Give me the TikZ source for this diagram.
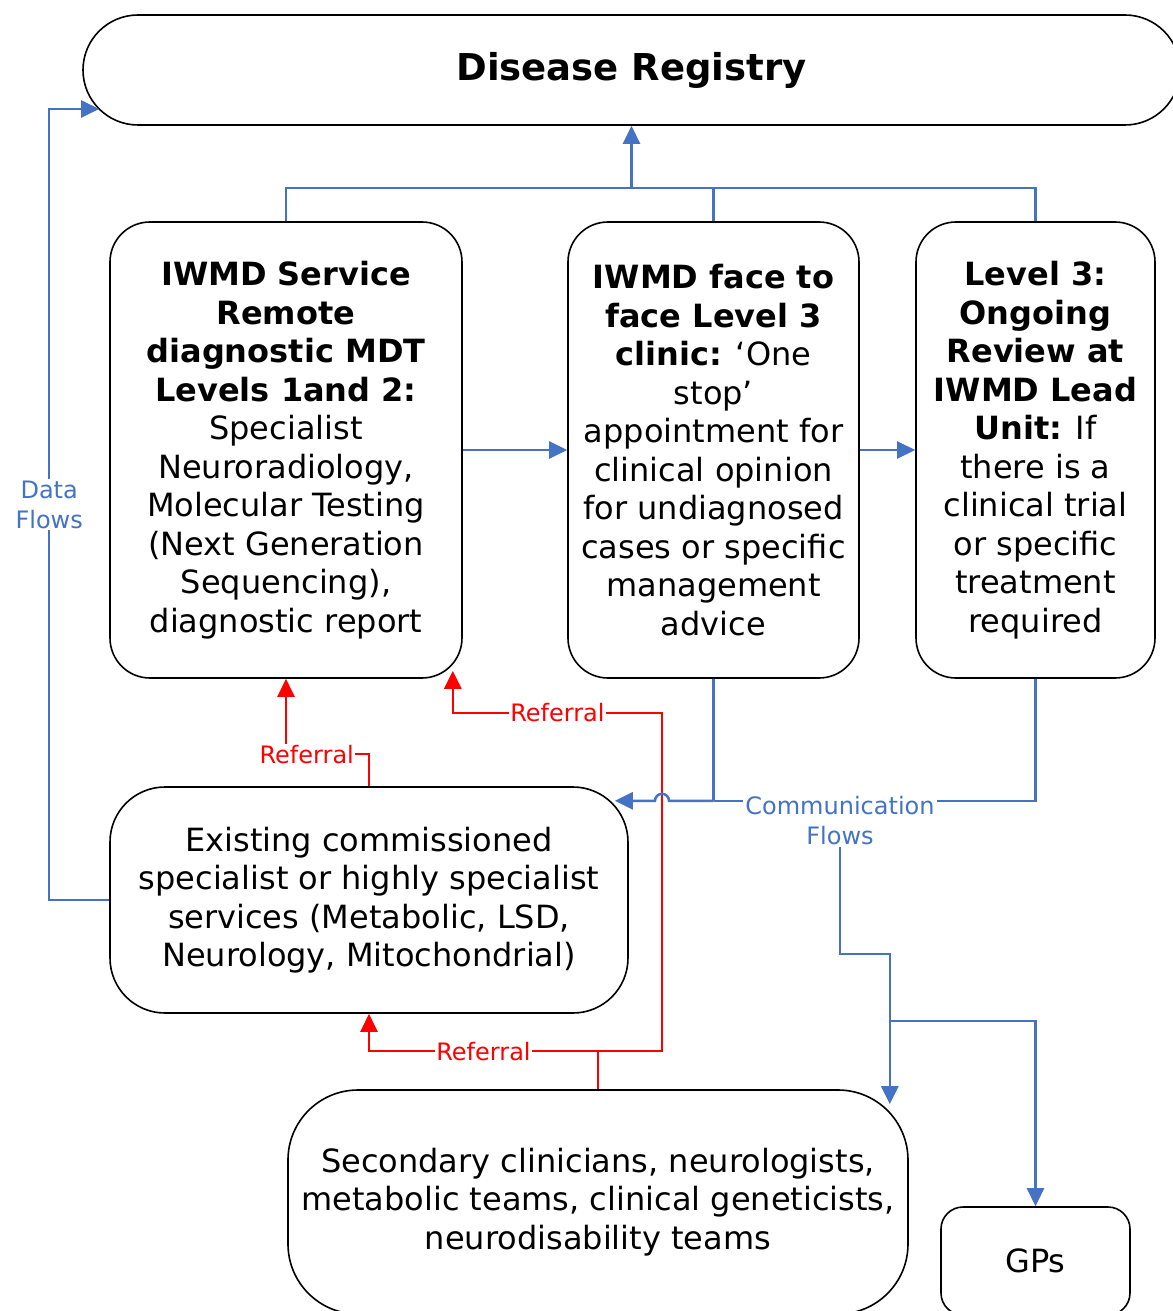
\documentclass[tikz,border=0pt]{standalone}
\usepackage{fontspec}
\setmainfont{DejaVu Sans}
\usetikzlibrary{arrows.meta}
\definecolor{commblue}{HTML}{4472C4}
\tikzstyle{registry} = [rectangle, rounded corners=55pt, minimum width=1097pt, minimum height=110pt, text centered, draw=black, line width=1.6pt, font=\fontsize{37}{44}\selectfont\bfseries]
\tikzstyle{level} = [rectangle, rounded corners=40pt, minimum height=456pt, inner sep=0pt, align=center, draw=black, line width=1.6pt, font=\fontsize{32}{38.5}\selectfont]
\tikzstyle{service} = [rectangle, rounded corners=55pt, inner sep=0pt, align=center, draw=black, line width=1.6pt, font=\fontsize{32}{38.5}\selectfont]
\tikzstyle{comm} = [line width=2.5pt, draw=commblue]
\tikzstyle{commarrow} = [comm, -{Triangle[length=18pt, width=17pt]}]
\tikzstyle{referral} = [line width=2.5pt, draw=red, -{Triangle[length=18pt, width=17pt]}]
\tikzstyle{reflabel} = [fill=white, text=red, inner sep=1pt, font=\fontsize{24}{29}\selectfont]
\tikzstyle{flowlabel} = [fill=white, text=commblue, inner sep=2pt, align=center, font=\fontsize{24}{30}\selectfont]

\begin{document}
\begin{tikzpicture}[x=1pt, y=1pt]
	\useasboundingbox (-631.5,70) rectangle (540.5,-1241);
		\node [registry] (registry) {Disease Registry};
		\node [level, minimum width=352pt, below of=registry, node distance=380pt, xshift=-345.5pt]	(remote)	{\textbf{IWMD Service}\\\textbf{Remote}\\\textbf{diagnostic MDT}\\\textbf{Levels 1and 2:}\\Specialist\\Neuroradiology,\\Molecular Testing\\(Next Generation\\Sequencing),\\diagnostic report};
		\node [level, minimum width=291pt, right of=remote, node distance=427.5pt]	(clinic)	{\textbf{IWMD face to}\\\textbf{face Level 3}\\\textbf{clinic:} ‘One\\stop’\\appointment for\\clinical opinion\\for undiagnosed\\cases or specific\\management\\advice};
		\node [level, minimum width=239pt, right of=clinic, node distance=322pt]	(review)	{\textbf{Level 3:}\\\textbf{Ongoing}\\\textbf{Review at}\\\textbf{IWMD Lead}\\\textbf{Unit:} If\\there is a\\clinical trial\\or specific\\treatment\\required};
		\node [service, minimum width=518pt, minimum height=226pt, below of=remote, node distance=450pt, xshift=83pt]	(existing)	{Existing commissioned\\specialist or highly specialist\\services (Metabolic, LSD,\\Neurology, Mitochondrial)};
		\node [service, rounded corners=70pt, minimum width=620pt, minimum height=224pt, below of=existing, node distance=302pt, xshift=229pt]	(secondary)	{Secondary clinicians, neurologists,\\metabolic teams, clinical geneticists,\\neurodisability teams};
		\node [service, rounded corners=22pt, minimum width=189pt, minimum height=108pt, right of=secondary, node distance=437.5pt, yshift=-59pt]	(gps)	{GPs};

		\coordinate (bus) at ([yshift=-62pt]registry.south);
		\coordinate (regentry) at ([xshift=17pt, yshift=-39pt]registry.west);
		\coordinate (datax) at ([xshift=-60pt]existing.west);
		\coordinate (commbus) at ([yshift=-122pt]clinic.south);
		\coordinate (reflink) at ([yshift=38pt]secondary.north);
		\coordinate (refright) at ([xshift=64pt]reflink);
		\coordinate (hop) at (refright |- commbus);
		\coordinate (commedge) at (existing.east |- commbus);
		\coordinate (commend) at ([xshift=-14pt]commedge);
		\coordinate (remotecorner) at ([xshift=-10pt, yshift=8pt]remote.south east);
		\coordinate (refup) at ([yshift=-42pt]remotecorner);
		\coordinate (refmid) at ([yshift=32pt]existing.north);
		\coordinate (secondcorner) at ([xshift=-19pt, yshift=-15pt]secondary.north east);
		\coordinate (commstep) at ([yshift=150pt]secondcorner);
		\coordinate (commsplit) at ([yshift=83pt]secondcorner);

		\draw [referral] (existing.north) |- node[reflabel, pos=0.875]{Referral} (remote.south |- refmid) -- (remote.south);
		\draw [referral] (reflink) -| node[reflabel, pos=0.25]{Referral} (existing.south);
		\draw [referral] (secondary.north) |- (refright) |- node[reflabel, pos=0.75]{Referral} (refup) -- (remotecorner);

		\draw [comm] (remote.north) |- (bus) -| (review.north);
		\draw [comm] (clinic.north) -- (clinic.north |- bus);
		\draw [commarrow] (bus) -- (registry.south);
		\draw [commarrow] (remote) -- (clinic);
		\draw [commarrow] (clinic) -- (review);
		\draw [commarrow] (existing.west) -- (datax) |- node[flowlabel, pos=0.25]{Data\\Flows} (regentry);
		\draw [comm] (clinic.south) -- (commbus);
		\draw [comm] (review.south) |- (commbus);
		\draw [commarrow] (commbus) -- ([xshift=7pt]hop) arc[start angle=0, end angle=180, radius=7pt] -- (commend);
		\node [flowlabel, right of=commbus, node distance=126.5pt, yshift=-20pt] (commflows) {Communication\\Flows};
		\draw [commarrow] (commflows.south) |- (commstep) -- (secondcorner);
		\draw [commarrow] (commsplit) -| (gps.north);
	\end{tikzpicture}
\end{document}
